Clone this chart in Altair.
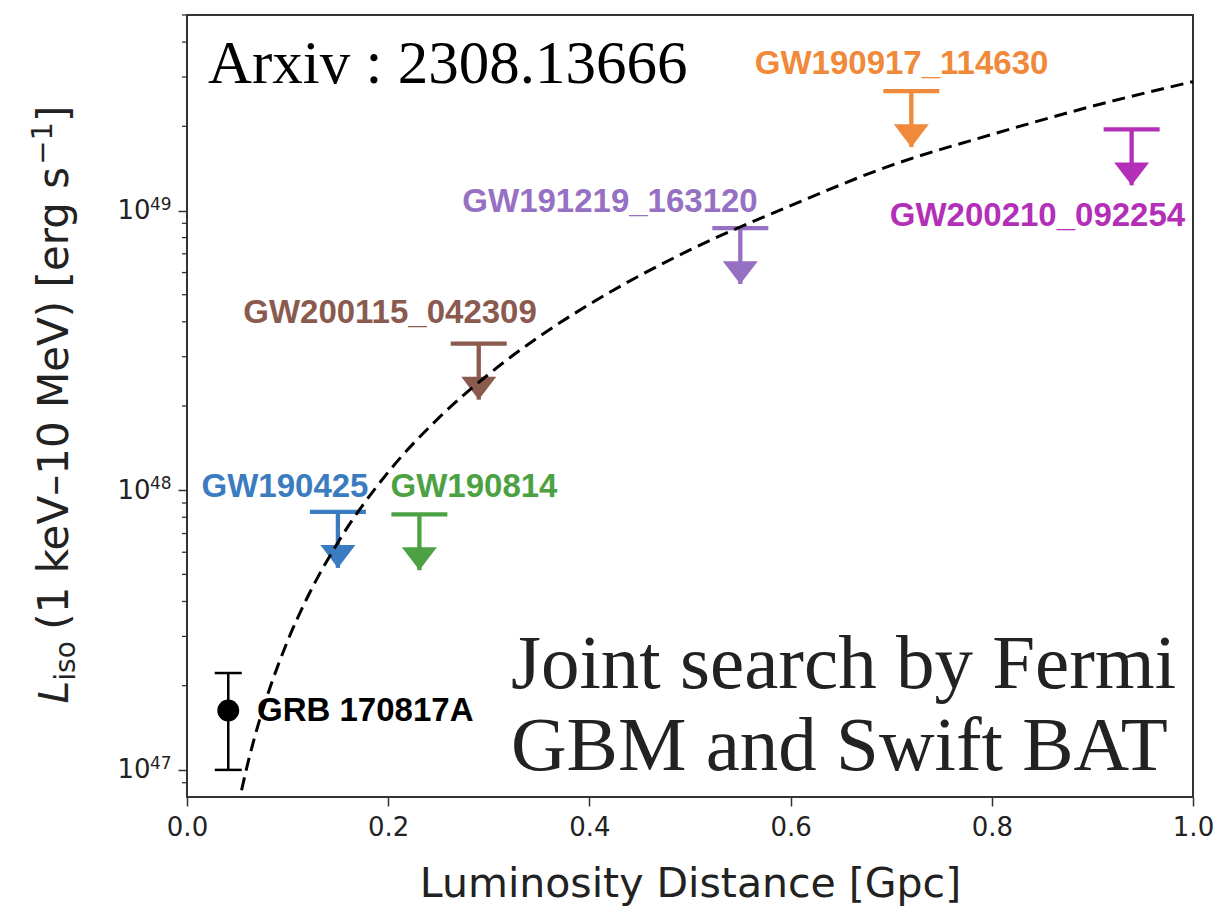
import altair as alt
import pandas as pd

# Upper limits on the isotropic luminosity of GW events (1 keV - 10 MeV)
events = ["GW190425", "GW190814", "GW200115_042309", "GW191219_163120",
          "GW190917_114630", "GW200210_092254"]
dist_gpc = [0.150, 0.231, 0.290, 0.550, 0.720, 0.939]
lum_limit = [8.36e47, 8.2e47, 3.34e48, 8.65e48, 2.67e49, 1.95e49]

# where each event name is written (data coordinates, text centre)
label_dist = [0.0974, 0.2853, 0.2018, 0.4205, 0.7103, 0.8454]
label_lum = [1.03e48, 1.03e48, 4.29e48, 1.07e49, 3.35e49, 9.57e48]

# GRB 170817A measurement with its error bar
grb_dist = [0.041]
grb_lum = [1.63e47]
grb_lo = [1.0e47]
grb_hi = [2.22e47]
grb_label_dist = [0.0696]

# sensitivity curve (dashed)
curve_dist = [0.05, 0.06, 0.07, 0.08, 0.10, 0.12, 0.15, 0.20, 0.25, 0.30,
              0.35, 0.40, 0.50, 0.60, 0.70, 0.80, 0.90, 1.00]
curve_lum = [7.2e46, 1.04e47, 1.42e47, 1.85e47, 2.89e47, 4.16e47, 6.5e47,
             1.16e48, 1.81e48, 2.6e48, 3.54e48, 4.62e48, 7.23e48, 1.04e49,
             1.45e49, 1.87e49, 2.36e49, 2.89e49]

# major (labelled) and minor ticks of the log axis
major_ticks = [1e47, 1e48, 1e49]
major_exponents = ["47", "48", "49"]
minor_ticks = [9e46] + [k * 1e47 for k in range(2, 10)] + \
              [k * 1e48 for k in range(2, 10)] + [k * 1e49 for k in range(2, 6)]

palette = ["#3b7bbf", "#4ca243", "#8b5a4e", "#9670c2", "#f0893a", "#b32fb8"]
ARROW_DECADES = 0.2  # length of the upper-limit arrows in decades

limits = pd.DataFrame({
    "event": events,
    "dist": dist_gpc,
    "lum": lum_limit,
    "tip": [v * 10 ** -ARROW_DECADES for v in lum_limit],
    "label_dist": label_dist,
    "label_lum": label_lum,
})
grb = pd.DataFrame({"dist": grb_dist, "lum": grb_lum, "lo": grb_lo, "hi": grb_hi,
                    "label_dist": grb_label_dist, "name": ["GRB 170817A"]})
curve = pd.DataFrame({"dist": curve_dist, "lum": curve_lum})
minor = pd.DataFrame({"v": minor_ticks})
majors = pd.DataFrame({"v": major_ticks, "exp": major_exponents})
one = pd.DataFrame({"a": [0]})

W, H = 1006, 782
AX = "#333333"
TXT = "#222222"

x_scale = alt.Scale(domain=[0, 1], nice=False, zero=False)
y_scale = alt.Scale(type="log", domain=[8e46, 5e49], nice=False)

x_axis = alt.Axis(
    values=[0, 0.2, 0.4, 0.6, 0.8, 1.0], format=".1f", grid=False, domain=False,
    labelFont="DejaVu Sans", labelFontSize=26, labelColor=TXT, labelPadding=8,
    labelFlush=False, tickSize=9, tickWidth=1.5, tickColor=AX,
    title="Luminosity Distance [Gpc]", titleFont="DejaVu Sans", titleFontSize=41,
    titleFontWeight="normal", titleColor=TXT, titlePadding=24,
)
# decade labels: the "10" comes from the axis, the exponent from a text layer
y_axis = alt.Axis(
    values=major_ticks, grid=False, domain=False, labelExpr="'10'",
    labelFont="DejaVu Sans", labelFontSize=26, labelColor=TXT, labelPadding=28,
    labelFlush=False, tickSize=9, tickWidth=1.5, tickColor=AX, title=None,
)

color = alt.Color("event:N", scale=alt.Scale(domain=events, range=palette), legend=None)


def X(field):
    return alt.X(f"{field}:Q", scale=x_scale, axis=x_axis)


def Y(field):
    return alt.Y(f"{field}:Q", scale=y_scale, axis=y_axis)


minor_layer = alt.Chart(minor).mark_rule(color=AX, strokeWidth=1.3).encode(
    y=Y("v"), x=alt.value(-5), x2=alt.value(0)
)
exponents = alt.Chart(majors).mark_text(
    font="DejaVu Sans", fontSize=17, align="left", baseline="middle", dy=-6, color=TXT
).encode(y=Y("v"), x=alt.value(-37), text="exp:N")

shafts = alt.Chart(limits).mark_rule(strokeWidth=4.3, opacity=1).encode(
    x=X("dist"), y=Y("lum"), y2="tip:Q", color=color
)
bars = alt.Chart(limits).mark_tick(orient="horizontal", size=56, thickness=4.3,
                                   opacity=1).encode(
    x=X("dist"), y=Y("lum"), color=color
)
heads = alt.Chart(limits).mark_point(
    shape="M-1,-1.31L1,-1.31L0,0Z", size=1225, filled=True, opacity=1, strokeWidth=0
).encode(x=X("dist"), y=Y("tip"), color=color)
names = alt.Chart(limits).mark_text(
    font="Liberation Sans", fontWeight="bold", fontSize=33, align="center", baseline="middle"
).encode(x=X("label_dist"), y=Y("label_lum"), text="event:N", color=color)

grb_bar = alt.Chart(grb).mark_rule(color="black", strokeWidth=2.5).encode(
    x=X("dist"), y=Y("lo"), y2="hi:Q"
)
grb_caps_lo = alt.Chart(grb).mark_tick(orient="horizontal", size=27, thickness=2.5,
                                       color="black", opacity=1).encode(x=X("dist"), y=Y("lo"))
grb_caps_hi = alt.Chart(grb).mark_tick(orient="horizontal", size=27, thickness=2.5,
                                       color="black", opacity=1).encode(x=X("dist"), y=Y("hi"))
grb_pt = alt.Chart(grb).mark_point(filled=True, size=480, color="black", opacity=1).encode(
    x=X("dist"), y=Y("lum")
)
grb_name = alt.Chart(grb).mark_text(
    font="Liberation Sans", fontWeight="bold", fontSize=33, align="left",
    baseline="middle", color="black"
).encode(x=X("label_dist"), y=Y("lum"), text="name:N")

curve_line = alt.Chart(curve).mark_line(
    color="black", strokeWidth=3, strokeDash=[13, 7], clip=True, interpolate="monotone"
).encode(x=X("dist"), y=Y("lum"))


# y-axis title built from pieces, read bottom to top
def ytitle_piece(text, size, x, y, style="normal", align="left"):
    return alt.Chart(one).mark_text(
        text=text, font="DejaVu Sans", fontSize=size, fontStyle=style, angle=270,
        align=align, baseline="alphabetic", color=TXT
    ).encode(x=alt.value(x), y=alt.value(y))


ytitle = [
    ytitle_piece("L", 41, -119, 688.5, style="italic"),
    ytitle_piece("iso", 28, -112, 665.7),
    ytitle_piece("(1 keV–10 MeV) [erg s", 42, -119, 614.7),
    ytitle_piece("]", 42, -119, 90.6, align="right"),
    ytitle_piece("−1", 29, -135, 107.0, align="right"),
]

arxiv = alt.Chart(one).mark_text(
    text="Arxiv : 2308.13666", font="Liberation Serif", fontSize=61,
    align="left", baseline="alphabetic", color="black"
).encode(x=alt.value(21), y=alt.value(68))
joint = alt.Chart(one).mark_text(
    text=["Joint search by Fermi", "GBM and Swift BAT"], font="Liberation Serif",
    fontSize=77, lineHeight=82, align="left", baseline="alphabetic", color=TXT
).encode(x=alt.value(324), y=alt.value(673))

chart = alt.layer(
    minor_layer, exponents, shafts, bars, heads, names,
    grb_bar, grb_caps_lo, grb_caps_hi, grb_pt, grb_name,
    curve_line, *ytitle, arxiv, joint,
).properties(
    width=W, height=H, autosize="none",
    padding={"left": 187, "top": 15, "right": 20, "bottom": 118},
    background="white",
).configure_view(stroke=AX, strokeWidth=2)

chart.save("out.html", embed_options={"renderer": "svg", "actions": False})
